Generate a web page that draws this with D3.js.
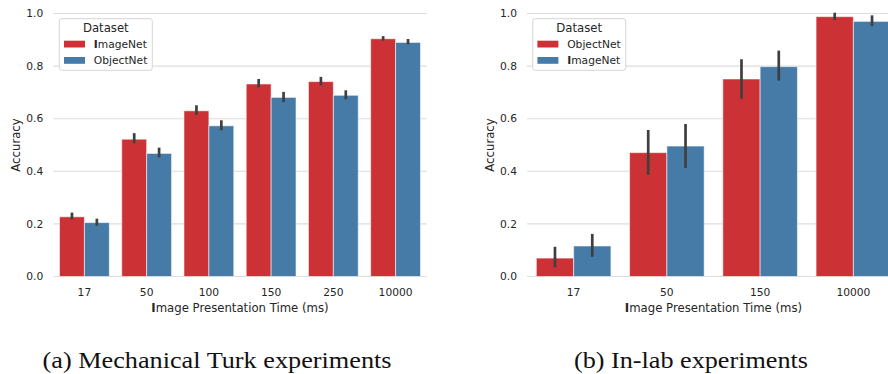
<!DOCTYPE html>
<html>
<head>
<meta charset="utf-8">
<script src="https://cdn.jsdelivr.net/npm/d3@7"></script>
<style>
  body { margin: 0; background: #fff; }
  svg { display: block; }
</style>
</head>
<body>
<script>
// ---- data ----
const ticksY = [0, 0.2, 0.4, 0.6, 0.8, 1.0];

// (a) Mechanical Turk
const turkTimes = ["17", "50", "100", "150", "250", "10000"];
const turkHues = ["ImageNet", "ObjectNet"];
const turkImageNet = [0.227, 0.522, 0.630, 0.732, 0.741, 0.904];
const turkImageNetLo = [0.217, 0.507, 0.615, 0.719, 0.727, 0.897];
const turkImageNetHi = [0.243, 0.545, 0.651, 0.751, 0.759, 0.914];
const turkObjectNet = [0.205, 0.468, 0.573, 0.681, 0.689, 0.890];
const turkObjectNetLo = [0.193, 0.453, 0.556, 0.663, 0.674, 0.883];
const turkObjectNetHi = [0.220, 0.490, 0.594, 0.702, 0.708, 0.903];

// (b) In-lab
const labTimes = ["17", "50", "150", "10000"];
const labHues = ["ObjectNet", "ImageNet"];
const labObjectNet = [0.070, 0.471, 0.751, 0.988];
const labObjectNetLo = [0.035, 0.387, 0.676, 0.975];
const labObjectNetHi = [0.113, 0.557, 0.826, 1.003];
const labImageNet = [0.116, 0.496, 0.798, 0.970];
const labImageNetLo = [0.075, 0.413, 0.745, 0.952];
const labImageNetHi = [0.162, 0.580, 0.859, 0.993];

const hueColors = ["#cc3135", "#467ba8"];
const textColor = "#262626";
const gridColor = "#dcdcdc";

const W = 888, H = 374;
const svg = d3.select("body").append("svg")
  .attr("width", W).attr("height", H)
  .style("font-family", "'DejaVu Sans', sans-serif");

// label where the leading "I" shows up heavier, like in the source pdf
function boldI(sel, str) {
  sel.append("tspan").attr("font-weight", "bold").text(str.charAt(0) === "I" ? "I" : "");
  sel.append("tspan").text(str.charAt(0) === "I" ? str.slice(1) : str);
}

function drawPanel(opt) {
  const g = svg.append("g");
  const y = d3.scaleLinear().domain([0, 1]).range([276.5, 13.5]);
  const x = d3.scaleBand().domain(opt.cats).range([opt.x0, opt.x1])
    .paddingInner(0.2).paddingOuter(0.1);
  const xh = d3.scaleBand().domain(opt.hues).range([0, x.bandwidth()]);

  // grid
  g.selectAll("line.grid").data(ticksY).join("line")
    .attr("x1", opt.x0).attr("x2", opt.x1)
    .attr("y1", d => y(d)).attr("y2", d => y(d))
    .attr("stroke", gridColor).attr("stroke-width", 1.1);

  // y tick labels
  g.selectAll("text.yt").data(ticksY).join("text")
    .attr("x", opt.x0 - 10).attr("y", d => y(d)).attr("dy", "0.35em")
    .attr("text-anchor", "end").attr("font-size", 10.7).attr("fill", textColor)
    .text(d3.format(".1f"));

  // bars
  opt.series.forEach((s, si) => {
    const hue = opt.hues[si];
    const rows = opt.cats.map((c, i) => ({ c: c, v: s.v[i], lo: s.lo[i], hi: s.hi[i] }));
    g.selectAll("rect.s" + si).data(rows).join("rect")
      .attr("x", d => x(d.c) + xh(hue))
      .attr("width", xh.bandwidth())
      .attr("y", d => y(d.v))
      .attr("height", d => y(0) - y(d.v))
      .attr("fill", hueColors[si])
      .attr("stroke", "#fff").attr("stroke-opacity", 0.55).attr("stroke-width", 1);
    g.selectAll("line.e" + si).data(rows).join("line")
      .attr("x1", d => x(d.c) + xh(hue) + xh.bandwidth() / 2)
      .attr("x2", d => x(d.c) + xh(hue) + xh.bandwidth() / 2)
      .attr("y1", d => y(d.lo)).attr("y2", d => y(d.hi))
      .attr("stroke", "#3f3f3f").attr("stroke-width", 2.7);
  });

  // x tick labels
  g.selectAll("text.xt").data(opt.cats).join("text")
    .attr("x", d => x(d) + x.bandwidth() / 2).attr("y", 295.5)
    .attr("text-anchor", "middle").attr("font-size", 10.7).attr("fill", textColor)
    .text(d => d);

  // axis titles
  const xt = g.append("text")
    .attr("x", (opt.x0 + opt.x1) / 2).attr("y", 311.5)
    .attr("text-anchor", "middle").attr("font-size", 11.7).attr("fill", textColor);
  boldI(xt, "Image Presentation Time (ms)");

  g.append("text")
    .attr("transform", `translate(${opt.x0 - 33.5},${(y(0) + y(1)) / 2}) rotate(-90)`)
    .attr("text-anchor", "middle").attr("font-size", 11.7).attr("fill", textColor)
    .text("Accuracy");

  // legend
  const lg = g.append("g").attr("transform", `translate(${opt.legendX},18.7)`);
  lg.append("rect").attr("width", 93).attr("height", 51.6).attr("rx", 2.5)
    .attr("fill", "#fff").attr("fill-opacity", 0.85)
    .attr("stroke", "#d6d6d6").attr("stroke-width", 1);
  lg.append("text").attr("x", 46.5).attr("y", 13.3).attr("text-anchor", "middle")
    .attr("font-size", 11.7).attr("fill", textColor).text("Dataset");
  opt.hues.forEach((h, i) => {
    lg.append("rect").attr("x", 4.7).attr("y", 22 + i * 16.3)
      .attr("width", 21).attr("height", 6.8).attr("fill", hueColors[i]);
    const t = lg.append("text").attr("x", 34.5).attr("y", 29.2 + i * 16.3)
      .attr("font-size", 10.7).attr("fill", textColor);
    boldI(t, h);
  });

  // caption
  svg.append("text")
    .attr("x", opt.capX).attr("y", 368)
    .attr("font-family", "'Liberation Serif', 'Times New Roman', serif")
    .attr("font-size", 23.5).attr("fill", "#111")
    .attr("textLength", opt.capLen).attr("lengthAdjust", "spacingAndGlyphs")
    .text(opt.caption);
}

drawPanel({
  cats: turkTimes, hues: turkHues,
  series: [
    { v: turkImageNet, lo: turkImageNetLo, hi: turkImageNetHi },
    { v: turkObjectNet, lo: turkObjectNetLo, hi: turkObjectNetHi }
  ],
  x0: 53.3, x1: 426.7, legendX: 59.3,
  caption: "(a) Mechanical Turk experiments", capX: 42.5, capLen: 349
});

drawPanel({
  cats: labTimes, hues: labHues,
  series: [
    { v: labObjectNet, lo: labObjectNetLo, hi: labObjectNetHi },
    { v: labImageNet, lo: labImageNetLo, hi: labImageNetHi }
  ],
  x0: 527, x1: 900, legendX: 532.7,
  caption: "(b) In-lab experiments", capX: 574, capLen: 234
});
</script>
</body>
</html>
